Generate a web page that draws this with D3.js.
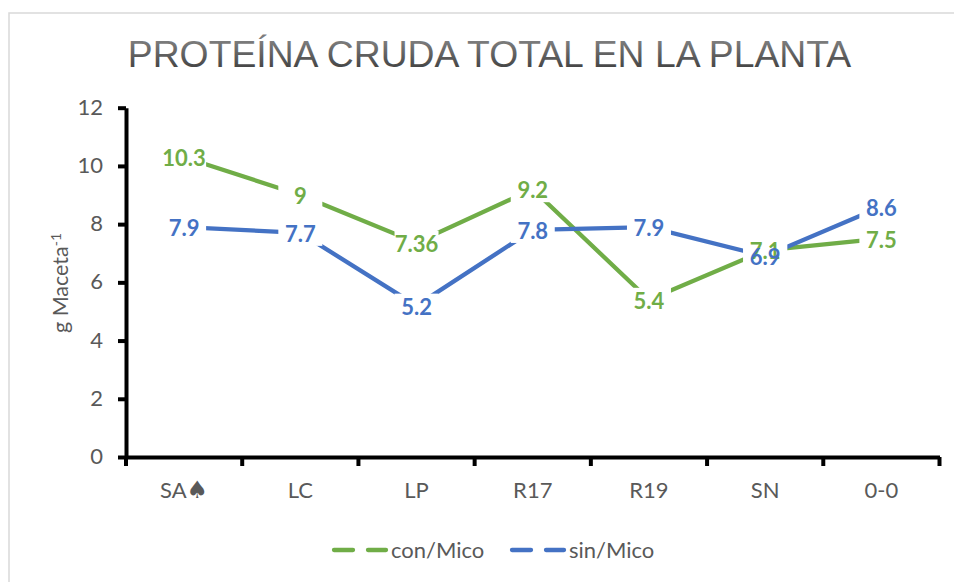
<!DOCTYPE html>
<html><head><meta charset="utf-8">
<script src="https://cdn.jsdelivr.net/npm/d3@7"></script>
<style>
html,body{margin:0;padding:0;background:#fff}
svg{display:block}
text{font-family:Lato,"Open Sans",sans-serif}
</style></head><body>
<svg id="c" width="954" height="582"></svg>
<script>
const categories=["SA♠","LC","LP","R17","R19","SN","0-0"];
const conMico=[10.3,9,7.36,9.2,5.4,7.1,7.5];
const sinMico=[7.9,7.7,5.2,7.8,7.9,6.9,8.6];
const yTicks=[0,2,4,6,8,10,12];
const seriesNames=["con/Mico","sin/Mico"];
const seriesColors=["#70ad47","#4472c4"];
const title="PROTEÍNA CRUDA TOTAL EN LA PLANTA";

const svg=d3.select("#c");
const grad=svg.append("defs").append("linearGradient").attr("id","tg").attr("x1",0).attr("x2",0).attr("y1",0).attr("y2",1);
grad.append("stop").attr("offset","0.2").attr("stop-color","#7c7c7c");
grad.append("stop").attr("offset","0.85").attr("stop-color","#434343");

svg.append("rect").attr("x",9).attr("y",13).attr("width",960).attr("height",600)
  .attr("fill","#fff").attr("stroke","#d9d9d9").attr("stroke-width",1.5);
svg.append("text").attr("x",489.5).attr("y",67).attr("text-anchor","middle")
  .style("font-family","'Liberation Sans',Arial,sans-serif").style("font-size","37.3px").attr("fill","url(#tg)").text(title);

const x=d3.scaleBand().domain(categories).range([126,939.5]);
const y=d3.scaleLinear().domain([0,12]).range([457,107.7]);

const yAxis=svg.append("g").attr("transform","translate(126,0)")
  .call(d3.axisLeft(y).tickValues(yTicks).tickSize(8).tickSizeOuter(0).tickPadding(15));
const xAxis=svg.append("g").attr("transform","translate(0,457)")
  .call(d3.axisBottom(x).tickSize(0).tickPadding(25));
[yAxis,xAxis].forEach(a=>{
  a.selectAll(".domain,.tick line").attr("stroke","#000").attr("stroke-width",4);
  a.selectAll("text").attr("fill","#595959").style("font-family","Lato,sans-serif").style("font-size","22px");
});
yAxis.selectAll(".tick text").attr("dy","0.3em");
xAxis.selectAll(".tick text").filter(d=>d.includes("♠"))
  .html(d=>d.replace("♠",'<tspan style="font-family:\'DejaVu Sans\';font-size:24px">♠</tspan>'));
xAxis.selectAll(".band").data(d3.range(categories.length+1)).enter().append("line")
  .attr("x1",i=>126+i*x.step()).attr("x2",i=>126+i*x.step()).attr("y1",0).attr("y2",9)
  .attr("stroke","#000").attr("stroke-width",4);

svg.append("text").attr("transform","translate(68,283) rotate(-90)").attr("text-anchor","middle")
  .attr("fill","#595959").style("font-size","21.5px")
  .html('g Maceta<tspan dy="-7" style="font-size:14px">-1</tspan>');

const mid=c=>x(c)+x.bandwidth()/2;
const line=d3.line().x((d,i)=>mid(categories[i])).y(d=>y(d));
[conMico,sinMico].forEach((vals,k)=>{
  svg.append("path").datum(vals).attr("d",line).attr("fill","none")
    .attr("stroke",seriesColors[k]).attr("stroke-width",4.3);
});
[conMico,sinMico].forEach((vals)=>{
  svg.append("g").selectAll("rect").data(vals).enter().append("rect")
    .attr("x",(d,i)=>mid(categories[i])-22).attr("y",d=>y(d)-12)
    .attr("width",44).attr("height",25).attr("fill","#fff");
});
[conMico,sinMico].forEach((vals,k)=>{
  svg.append("g").selectAll("text").data(vals).enter().append("text")
    .attr("x",(d,i)=>mid(categories[i])).attr("y",d=>y(d)+9)
    .attr("text-anchor","middle").attr("fill",seriesColors[k])
    .style("font-size","22px").style("font-weight","700").text(d=>d);
});

const lx=[332,510];
seriesNames.forEach((n,k)=>{
  const g=svg.append("g").attr("transform",`translate(${lx[k]},550)`);
  g.append("line").attr("x1",2).attr("x2",54).attr("stroke",seriesColors[k])
    .attr("stroke-width",4.3).attr("stroke-linecap","round").attr("stroke-dasharray","19 15");
  g.append("text").attr("x",59).attr("y",8).attr("fill","#595959").style("font-size","22px").text(n);
});
</script></body></html>
